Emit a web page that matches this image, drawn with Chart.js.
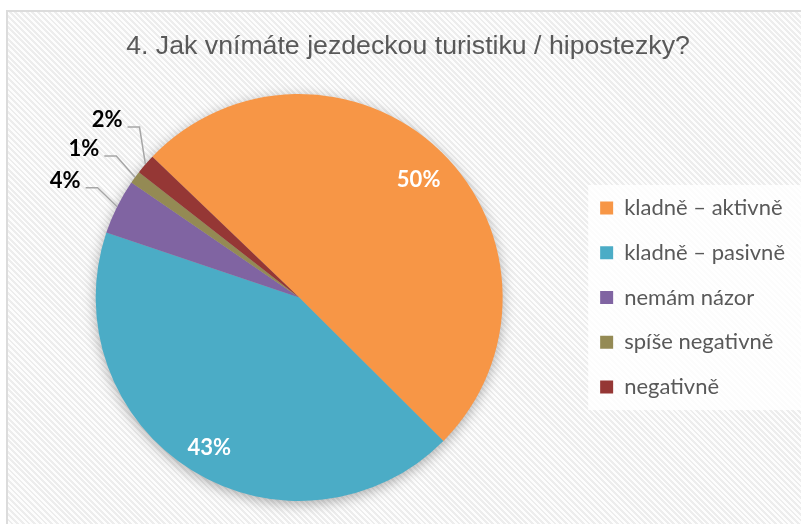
<!DOCTYPE html>
<html><head><meta charset="utf-8">
<script src="https://cdn.jsdelivr.net/npm/chart.js@4/dist/chart.umd.min.js"></script>
<style>
html,body{margin:0;padding:0;background:#fff;width:801px;height:524px;overflow:hidden}
#frame{position:absolute;left:6px;top:10px;width:820px;height:540px;border-top:2px solid #dcdcdc;border-left:2px solid #dcdcdc;
background:repeating-linear-gradient(45deg,#fdfdfd 0px,#fdfdfd 2px,#ededed 2px,#ededed 4px);}
canvas{position:absolute;left:0;top:0}
</style></head><body>
<div id="frame"></div>
<canvas id="c" width="801" height="524"></canvas>
<script>
const chartTitle = '4. Jak vnímáte jezdeckou turistiku / hipostezky?';
const categories = ['kladně – aktivně', 'kladně – pasivně', 'nemám názor', 'spíše negativně', 'negativně'];
const shares = [50.3, 42.7, 4.4, 1.0, 1.6];
const colors = ['#F79646', '#4BACC6', '#8064A2', '#948A54', '#953735'];

const LABEL_FONT = 'bold 22px Lato';

const pieDecor = {
  id: 'pieDecor',
  beforeDraw(chart) {
    const hb = chart.legend && chart.legend.legendHitBoxes;
    if (!hb || !hb.length) return;
    const ctx = chart.ctx;
    const first = hb[0], last = hb[hb.length - 1];
    ctx.save();
    ctx.fillStyle = 'rgba(255,255,255,0.8)';
    ctx.fillRect(first.left - 12, first.top - 12, chart.width - first.left + 12, last.top + last.height - first.top + 24);
    ctx.restore();
  },
  beforeDatasetsDraw(chart) {
    const arc = chart.getDatasetMeta(0).data[0];
    if (!arc) return;
    const p = arc.getProps(['x', 'y', 'outerRadius'], true);
    const ctx = chart.ctx;
    ctx.save();
    ctx.shadowColor = 'rgba(0,0,0,0.35)';
    ctx.shadowBlur = 14;
    ctx.shadowOffsetY = 3;
    ctx.beginPath();
    ctx.arc(p.x, p.y, p.outerRadius - 1, 0, Math.PI * 2);
    ctx.fillStyle = '#aaa';
    ctx.fill();
    ctx.restore();
  },
  afterDatasetsDraw(chart) {
    const ctx = chart.ctx;
    const meta = chart.getDatasetMeta(0);
    const total = shares.reduce((a, b) => a + b, 0);
    ctx.save();
    ctx.font = LABEL_FONT;
    ctx.textAlign = 'center';
    ctx.textBaseline = 'middle';
    const outside = [];
    meta.data.forEach((arc, i) => {
      const p = arc.getProps(['x', 'y', 'startAngle', 'endAngle', 'outerRadius'], true);
      const mid = (p.startAngle + p.endAngle) / 2;
      const pct = shares[i] / total * 100;
      const txt = Math.round(pct) + '%';
      if (pct >= 10) {
        const r = p.outerRadius * 0.84;
        ctx.fillStyle = '#ffffff';
        ctx.fillText(txt, p.x + r * Math.cos(mid), p.y + r * Math.sin(mid) + 5);
      } else {
        const R = p.outerRadius + 58;
        outside.push({
          txt, cx: p.x, cy: p.y, R, side: Math.cos(mid) < 0 ? -1 : 1,
          ax: p.x + p.outerRadius * Math.cos(mid), ay: p.y + p.outerRadius * Math.sin(mid),
          ly: p.y + R * Math.sin(mid)
        });
      }
    });
    const GAP = 29;
    [-1, 1].forEach(side => {
      const list = outside.filter(o => o.side === side).sort((a, b) => a.ly - b.ly);
      for (let it = 0; it < 50; it++) {
        let moved = false;
        for (let k = 1; k < list.length; k++) {
          const d = list[k].ly - list[k - 1].ly;
          if (d < GAP - 0.01) {
            const push = (GAP - d) / 2;
            list[k - 1].ly -= push;
            list[k].ly += push;
            moved = true;
          }
        }
        if (!moved) break;
      }
      list.forEach(o => {
        const dy = o.ly - o.cy;
        o.lx = o.cx + side * Math.sqrt(Math.max(0, o.R * o.R - dy * dy));
        const w = ctx.measureText(o.txt).width;
        const sx = o.lx - side * (w / 2 + 5);
        const sy = o.ly + 7;
        ctx.strokeStyle = '#a6a6a6';
        ctx.lineWidth = 1.5;
        ctx.beginPath();
        ctx.moveTo(sx, sy);
        ctx.lineTo(sx - side * 12, sy);
        ctx.lineTo(o.ax, o.ay);
        ctx.stroke();
        ctx.fillStyle = '#000000';
        ctx.fillText(o.txt, o.lx, o.ly);
      });
    });
    ctx.restore();
  }
};

new Chart(document.getElementById('c'), {
  type: 'pie',
  data: {
    labels: categories,
    datasets: [{
      data: shares,
      backgroundColor: colors,
      borderWidth: 0
    }]
  },
  options: {
    responsive: false,
    devicePixelRatio: 1,
    animation: false,
    events: [],
    rotation: -46.2,
    layout: { padding: { left: 21, right: 6, top: 0, bottom: 23 } },
    plugins: {
      title: {
        display: true,
        text: chartTitle,
        color: '#595959',
        font: { family: "'Liberation Sans Narrow', 'Liberation Sans', Arial", size: 26.7, weight: 'normal' },
        padding: { top: 31, bottom: 31 }
      },
      legend: {
        position: 'right',
        fullSize: false,
        labels: {
          boxWidth: 13,
          boxHeight: 13,
          padding: 22.8,
          color: '#595959',
          font: { family: 'Lato', size: 22 }
        }
      },
      tooltip: { enabled: false }
    }
  },
  plugins: [pieDecor]
});
</script>
</body></html>
